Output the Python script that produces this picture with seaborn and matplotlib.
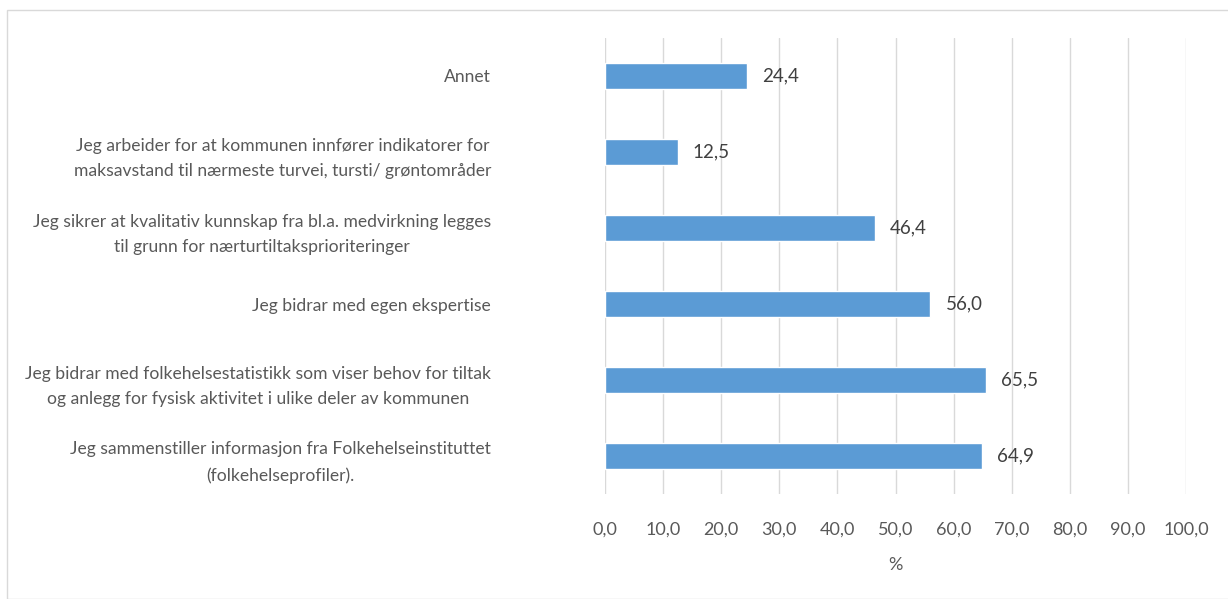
import matplotlib.pyplot as plt
import pandas as pd
import seaborn as sns
from matplotlib.patches import Rectangle
from matplotlib.ticker import FuncFormatter

categories = [
    "Annet",
    "Jeg arbeider for at kommunen innfører indikatorer for\nmaksavstand til nærmeste turvei, tursti/ grøntområder",
    "Jeg sikrer at kvalitativ kunnskap fra bl.a. medvirkning legges\ntil grunn for nærturtiltaksprioriteringer",
    "Jeg bidrar med egen ekspertise",
    "Jeg bidrar med folkehelsestatistikk som viser behov for tiltak\nog anlegg for fysisk aktivitet i ulike deler av kommunen",
    "Jeg sammenstiller informasjon fra Folkehelseinstituttet\n(folkehelseprofiler).",
]
values = [24.4, 12.5, 46.4, 56.0, 65.5, 64.9]
x_ticks = [0, 10, 20, 30, 40, 50, 60, 70, 80, 90, 100]

df = pd.DataFrame({"category": categories, "value": values})

sns.set_style("white")
plt.rcParams["font.family"] = ["Lato", "DejaVu Sans"]
text_color = "#595959"
bar_color = "#5B9BD5"

fig = plt.figure(figsize=(12.28, 5.99), dpi=100)
ax = fig.add_axes([605 / 1228, 1 - 494 / 599, (1186 - 605) / 1228, (494 - 38) / 599])

sns.barplot(data=df, x="value", y="category", color=bar_color, width=0.35,
            saturation=1, ax=ax, orient="h")

for i, v in enumerate(values):
    ax.text(v + 2.6, i, f"{v:.1f}".replace(".", ","), va="center", ha="left",
            fontsize=13.5, color="#404040")

ax.set_xlim(0, 100)
ax.set_ylim(len(categories) - 0.5, -0.5)
ax.set_xticks(x_ticks)
ax.xaxis.set_major_formatter(FuncFormatter(lambda x, _: f"{x:.1f}".replace(".", ",")))
ax.grid(axis="x", color="#d9d9d9", linewidth=1)
ax.set_axisbelow(True)
for s in ax.spines.values():
    s.set_visible(False)
ax.tick_params(axis="x", length=0, pad=20, labelsize=13, labelcolor=text_color)
ax.tick_params(axis="y", length=0, pad=82, labelsize=12.6, labelcolor=text_color)
for lbl in ax.get_yticklabels():
    lbl.set_multialignment("center")
    lbl.set_linespacing(1.75)
ax.set_xlabel("%", fontsize=13, color=text_color, labelpad=14)
ax.set_ylabel("")

fig.patches.append(Rectangle((7 / 1228, 0), 1.2, 1 - 10 / 599, transform=fig.transFigure,
                             fill=False, edgecolor="#d9d9d9", linewidth=1))

fig.savefig("out.png", dpi=100)
